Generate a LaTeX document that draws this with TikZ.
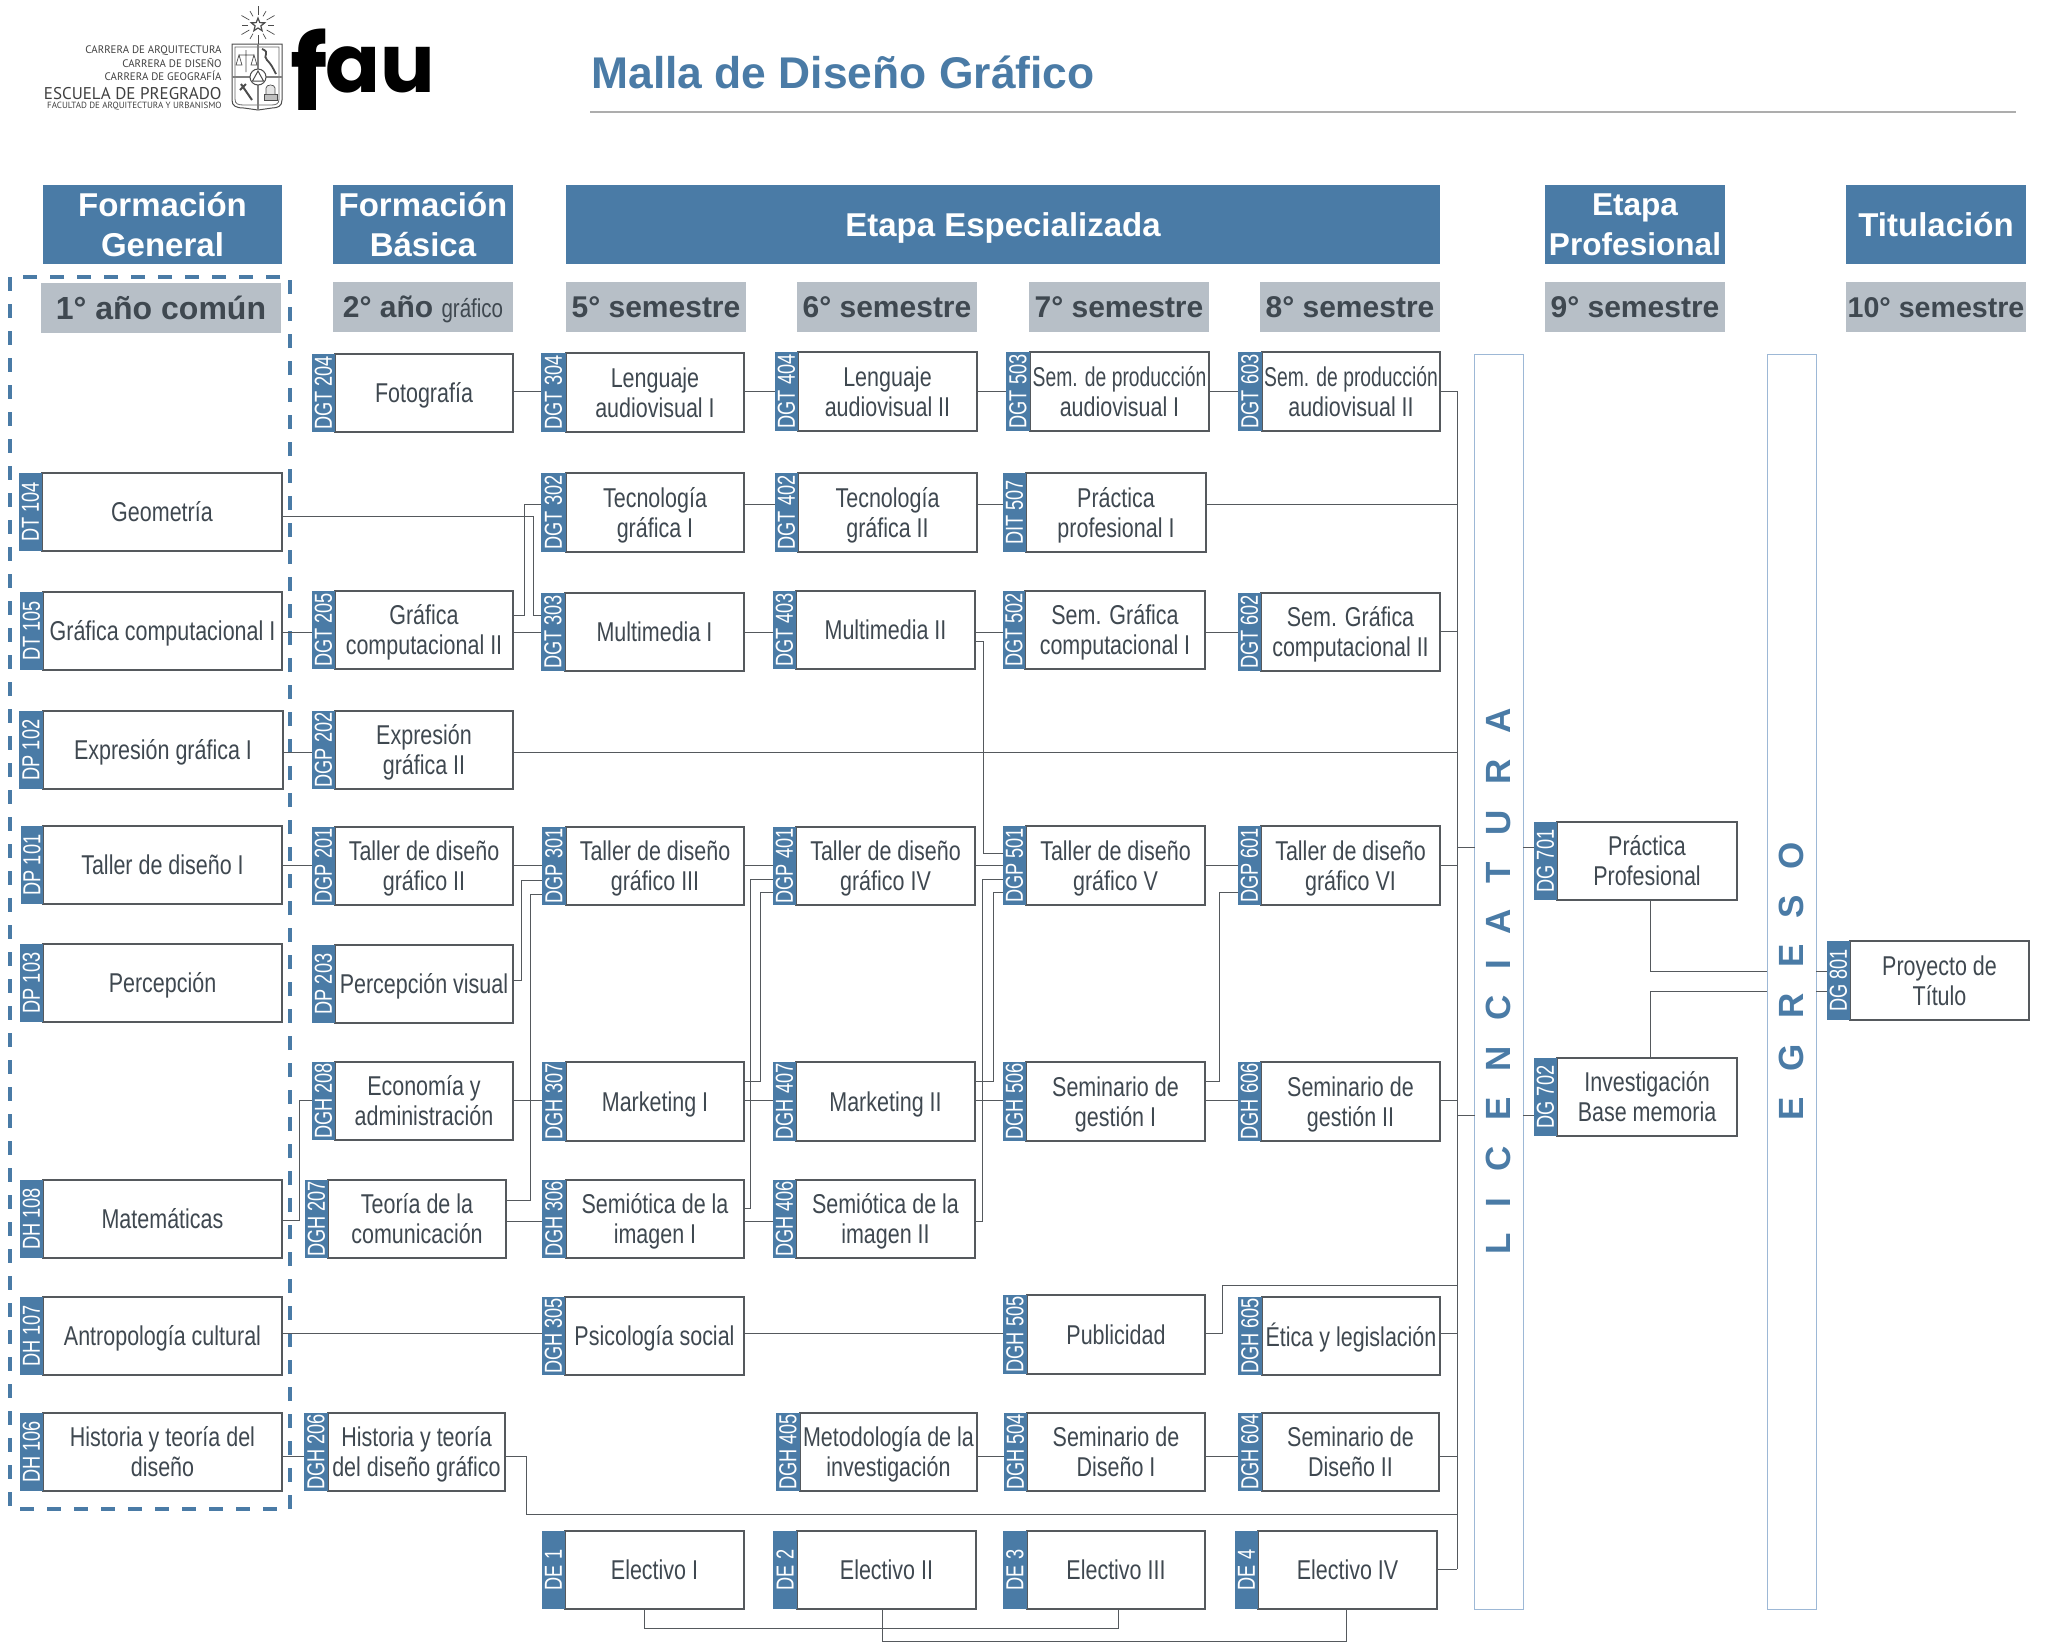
\documentclass[tikz,border=0pt]{standalone}
\usepackage{fontspec}
\usepackage{graphicx}
\setmainfont{Liberation Sans}
\newfontfamily\narrowf[FakeStretch=0.79]{Liberation Sans}
\newfontfamily\tightf[FakeStretch=0.71]{Liberation Sans}
\newfontfamily\codef[FakeStretch=0.74]{Liberation Sans}
\newfontfamily\logof{PT Sans}
\newfontfamily\fauf{Poppins}
\definecolor{mblue}{HTML}{4A7BA6}
\definecolor{mgray}{HTML}{B7BFC7}
\definecolor{mtext}{HTML}{3F4850}
\definecolor{mline}{HTML}{55595D}
\definecolor{mbar}{HTML}{9DB8D6}
\tikzset{
  hdrbox/.style={fill=mblue,text=white,inner sep=0pt,outer sep=0pt,align=center,font=\fontsize{16.5}{20}\selectfont\bfseries},
  sembox/.style={fill=mgray,text=mtext,inner sep=0pt,outer sep=0pt,align=center,font=\fontsize{15}{18}\selectfont\bfseries},
  coursebox/.style={draw=mline,line width=0.55pt,fill=white,text=mtext,inner sep=0pt,outer sep=0pt,font=\narrowf\fontsize{13.6}{15}\selectfont},
  codebox/.style={fill=mblue,text=white,inner sep=0pt,outer sep=0pt,font=\codef\fontsize{12.3}{12.3}\selectfont},
  link/.style={draw=mline,line width=0.5pt},
  lane/.style={draw=mbar,line width=0.5pt,fill=white,text=mblue,inner sep=0pt,outer sep=0pt,font=\fontsize{17.5}{18}\selectfont\bfseries},
  logoline/.style={draw=black!70,line width=0.35pt},
  logotxt/.style={anchor=east,inner sep=0pt,text=black!75,font=\logof}
}
% \course{id}{tab left}{box left}{box right}{top}{bottom}{code}{name}
\newcommand{\course}[8]{%
  \node[coursebox,minimum width={(#4-#3)*0.5pt},minimum height={(#6-#5)*0.5pt}] (#1) at ({(#3+#4)/2},{(#5+#6)/2})
    {\raisebox{-1.8pt}[\height][\depth]{\begin{tabular}{@{}c@{}}#8\end{tabular}}};
  \node[codebox,minimum width={(#3-#2)*0.5pt},minimum height={(#6-#5)*0.5pt}] (#1T) at ({(#2+#3)/2},{(#5+#6)/2}) {\rotatebox{90}{#7}};
}
\newcommand{\header}[6][hdrbox]{%
  \node[#1,minimum width={(#4-#3)*0.5pt},minimum height={(#6-#5)*0.5pt}] at ({(#3+#4)/2},{(#5+#6)/2}) {#2};
}
\newcommand{\semstrut}{\rule[-2pt]{0pt}{14pt}}
\begin{document}
\begin{tikzpicture}[x=0.5pt,y=-0.5pt]
\useasboundingbox (0,0) rectangle (2048,1646);

% ---------- logo ----------
\node[logotxt] (logoa) at (222,51) {\fontsize{5.45}{6}\selectfont CARRERA DE ARQUITECTURA};
\node[logotxt] (logob) at (222,63) {\fontsize{5.45}{6}\selectfont CARRERA DE DISEÑO};
\node[logotxt] (logoc) at (222,76) {\fontsize{5.45}{6}\selectfont CARRERA DE  GEOGRAFÍA};
\node[logotxt] (logod) at (222,94) {\fontsize{8.5}{9}\selectfont ESCUELA DE PREGRADO};
\node[logotxt] (logoe) at (222,106) {\fontsize{4.5}{5}\selectfont FACULTAD DE ARQUITECTURA Y URBANISMO};
% star and rays
\foreach \a in {0,30,...,330}{\draw[logoline] (258,25)++(\a:10) -- ++(\a:{6+mod(\a,60)/10});}
\draw[logoline,line width=0.6pt] (258,18) -- (259.8,22.6) -- (264.7,22.8) -- (260.9,25.9) -- (262.1,30.7) -- (258,28) -- (253.9,30.7) -- (255.1,25.9) -- (251.3,22.8) -- (256.2,22.6) -- cycle;
% shield
\draw[draw=black!70,line width=0.5pt,fill=white] (232,44) -- (282,44) -- (282,100) .. controls (282,106) and (278,108) .. (272,108) -- (258,110) -- (244,108) .. controls (236,108) and (232,106) .. (232,100) -- cycle;
\draw[draw=black!60,line width=0.4pt] (235,47) -- (279,47) -- (279,99) .. controls (279,104) and (276,105) .. (271,105) -- (244,105) .. controls (238,105) and (235,104) .. (235,99) -- cycle;
\draw[draw=black!50,line width=1pt] (258,44) -- (258,110) (232,77) -- (282,77);
\draw[fill=white,draw=black!70,line width=0.5pt] (258,77) circle (8);
\draw[draw=black!70,line width=0.5pt] (258,71) -- (263.5,81) -- (252.5,81) -- cycle;
% scales
\draw[logoline] (246,50) -- (246,72) (239,55) -- (254,55) (239,55) -- (236,65) -- (242,65) -- cycle (254,55) -- (251,65) -- (257,65) -- cycle;
% serpent
\draw[logoline,line width=0.9pt] (262,49) .. controls (271,52) and (262,56) .. (267,60) .. controls (271,64) and (273,68) .. (276,74);
% lower left / right
\draw[logoline,line width=1pt] (241,84) -- (252,100) (240,90) -- (246,84);
\draw[logoline,fill=black!25] (264,100) -- (277,100) -- (277,94) -- (264,94) -- cycle;
\draw[logoline,fill=black!10] (266,94) -- (266,88) .. controls (266,84) and (275,84) .. (275,88) -- (275,94);
% fau
\node[name=fau,anchor=base west,inner sep=0pt,text=black,font=\fauf\bfseries] at (290,92) {\raisebox{-9pt}{\fontsize{52}{52}\selectfont f}\hspace{-1pt}\fontsize{40.5}{42}\selectfont au};

% ---------- title ----------
\node[name=title,anchor=west,inner sep=0pt,text=mblue,font=\fontsize{22.2}{24}\selectfont\bfseries] at (591,72) {Malla de Diseño Gráfico};
\coordinate (ruleL) at (590,112);
\coordinate (ruleR) at (2016,112);
\draw[draw=black!32,line width=1.2pt] (ruleL) -- (ruleR);

% ---------- stage headers ----------
\header{Formación\\General}{43}{282}{185}{264}
\header{Formación\\Básica}{333}{513}{185}{264}
\header{\rule{0pt}{15pt}Etapa Especializada}{566}{1440}{185}{264}
\header[hdrbox,font=\fontsize{15.8}{20}\selectfont\bfseries]{Etapa\\Profesional}{1545}{1725}{185}{264}
\header{Titulación}{1846}{2026}{185}{264}
% semester bars
\header[sembox,font=\fontsize{16}{18}\selectfont\bfseries]{1° año común}{41}{281}{283}{333}
\header[sembox]{\rule[-3pt]{0pt}{16pt}2° año {\narrowf\mdseries\fontsize{13}{14}\selectfont gráfico}}{333}{513}{282}{332}
\header[sembox]{\semstrut 5° semestre}{566}{746}{282}{332}
\header[sembox]{\semstrut 6° semestre}{797}{977}{282}{332}
\header[sembox]{\semstrut 7° semestre}{1029}{1209}{282}{332}
\header[sembox]{\semstrut 8° semestre}{1260}{1440}{282}{332}
\header[sembox]{\semstrut 9° semestre}{1545}{1725}{282}{332}
\header[sembox,font=\fontsize{14.3}{18}\selectfont\bfseries]{\semstrut 10° semestre}{1846}{2026}{282}{332}

% ---------- common-year dashed frame ----------
\coordinate (frameA) at (10,277);
\coordinate (frameB) at (290,1509);
\draw[draw=mblue,line width=1.6pt,dash pattern=on 7pt off 6.5pt] (frameA) rectangle (frameB);

% ---------- lanes ----------
\node[lane,minimum width=24.25pt,minimum height=627.5pt] (lic) at (1498.8,981.5) {\rotatebox{90}{\spaceskip=12.9pt L I C E N C I A T U R A}};
\node[lane,minimum width=24.5pt,minimum height=627.5pt] (egr) at (1791.5,981.5) {\rotatebox{90}{\spaceskip=12.8pt E G R E S O}};

% ---------- courses ----------
\course{dt104}{19}{42}{282}{473}{551}{DT 104}{Geometría}
\course{dt105}{20}{43}{282}{592}{670}{DT 105}{Gráfica computacional I}
\course{dp102}{19}{43}{283}{711}{789}{DP 102}{Expresión gráfica I}
\course{dp101}{21}{43}{282}{826}{904}{DP 101}{Taller de diseño I}
\course{dp103}{20}{43}{282}{944}{1022}{DP 103}{Percepción}
\course{dh108}{20}{43}{282}{1180}{1258}{DH 108}{Matemáticas}
\course{dh107}{20}{43}{282}{1297}{1375}{DH 107}{Antropología cultural}
\course{dh106}{20}{43}{282}{1413}{1491}{DH 106}{Historia y teoría del\\diseño}

\course{dgt204}{312}{335}{513}{354}{432}{DGT 204}{Fotografía}
\course{dgt205}{312}{335}{513}{591}{669}{DGT 205}{Gráfica\\computacional II}
\course{dgp202}{312}{335}{513}{711}{789}{DGP 202}{Expresión\\gráfica II}
\course{dgp201}{312}{335}{513}{827}{905}{DGP 201}{Taller de diseño\\gráfico II}
\course{dp203}{312}{335}{513}{945}{1023}{DP 203}{Percepción visual}
\course{dgh208}{312}{335}{513}{1062}{1140}{DGH 208}{Economía y\\administración}
\course{dgh207}{305}{328}{506}{1180}{1258}{DGH 207}{Teoría de la\\comunicación}
\course{dgh206}{304}{328}{505}{1413}{1491}{DGH 206}{Historia y teoría\\del diseño gráfico}

\course{dgt304}{541}{566}{744}{353}{432}{DGT 304}{Lenguaje\\audiovisual I}
\course{dgt302}{541}{566}{744}{473}{552}{DGT 302}{Tecnología\\gráfica I}
\course{dgt303}{541}{565}{744}{593}{671}{DGT 303}{Multimedia I}
\course{dgp301}{542}{566}{744}{827}{905}{DGP 301}{Taller de diseño\\gráfico III}
\course{dgh307}{542}{566}{744}{1062}{1141}{DGH 307}{Marketing I}
\course{dgh306}{542}{566}{744}{1180}{1258}{DGH 306}{Semiótica de la\\imagen I}
\course{dgh305}{542}{565}{744}{1297}{1375}{DGH 305}{Psicología social}
\course{de1}{542}{565}{744}{1531}{1609}{DE 1}{Electivo I}

\course{dgt404}{775}{798}{977}{352}{431}{DGT 404}{Lenguaje\\audiovisual II}
\course{dgt402}{775}{798}{977}{473}{552}{DGT 402}{Tecnología\\gráfica II}
\course{dgt403}{773}{796}{975}{591}{669}{DGT 403}{Multimedia II}
\course{dgp401}{773}{796}{975}{827}{905}{DGP 401}{Taller de diseño\\gráfico IV}
\course{dgh407}{773}{796}{975}{1062}{1141}{DGH 407}{Marketing II}
\course{dgh406}{773}{796}{975}{1180}{1258}{DGH 406}{Semiótica de la\\imagen II}
\course{dgh405}{776}{800}{977}{1413}{1491}{DGH 405}{Metodología de la\\investigación}
\course{de2}{773}{797}{976}{1531}{1609}{DE 2}{Electivo II}

\course{dgt503}{1006}{1030}{1209}{352}{431}{DGT 503}{{\tightf Sem. de producción}\\audiovisual I}
\course{dit507}{1003}{1026}{1206}{473}{552}{DIT 507}{Práctica\\profesional I}
\course{dgt502}{1003}{1025}{1205}{591}{669}{DGT 502}{Sem. Gráfica\\computacional I}
\course{dgp501}{1003}{1026}{1205}{826}{905}{DGP 501}{Taller de diseño\\gráfico V}
\course{dgh506}{1003}{1026}{1205}{1062}{1141}{DGH 506}{Seminario de\\gestión I}
\course{dgh505}{1003}{1027}{1205}{1295}{1374}{DGH 505}{Publicidad}
\course{dgh504}{1004}{1027}{1205}{1413}{1491}{DGH 504}{Seminario de\\Diseño I}
\course{de3}{1003}{1027}{1205}{1531}{1609}{DE 3}{Electivo III}

\course{dgt603}{1238}{1262}{1440}{352}{431}{DGT 603}{{\tightf Sem. de producción}\\audiovisual II}
\course{dgt602}{1238}{1261}{1440}{593}{671}{DGT 602}{Sem. Gráfica\\computacional II}
\course{dgp601}{1238}{1261}{1440}{826}{905}{DGP 601}{Taller de diseño\\gráfico VI}
\course{dgh606}{1238}{1261}{1440}{1062}{1141}{DGH 606}{Seminario de\\gestión II}
\course{dgh605}{1238}{1262}{1440}{1297}{1375}{DGH 605}{Ética y legislación}
\course{dgh604}{1238}{1262}{1439}{1413}{1491}{DGH 604}{Seminario de\\Diseño II}
\course{de4}{1235}{1258}{1437}{1531}{1609}{DE 4}{Electivo IV}

\course{dg701}{1534}{1557}{1737}{822}{900}{DG 701}{Práctica\\Profesional}
\course{dg702}{1534}{1557}{1737}{1058}{1136}{DG 702}{Investigación\\Base memoria}
\course{dg801}{1827}{1850}{2029}{941}{1020}{DG 801}{Proyecto de\\Título}

% ---------- trunk ----------
\coordinate (trunkA) at (1457,391);
\coordinate (trunkB) at (1457,1569);
\draw[link] (trunkA) -- (trunkB);

% ---------- straight row links ----------
\foreach \a/\b/\yy in {
  dgt204/dgt304/391, dgt304/dgt404/391, dgt404/dgt503/391, dgt503/dgt603/391,
  dgt302/dgt402/504, dgt402/dit507/504,
  dt105/dgt205/632, dgt205/dgt303/632, dgt303/dgt403/632, dgt403/dgt502/632, dgt502/dgt602/632,
  dp102/dgp202/752,
  dp101/dgp201/865, dgp201/dgp301/865, dgp301/dgp401/865, dgp401/dgp501/865, dgp501/dgp601/865,
  dgh208/dgh307/1100, dgh307/dgh407/1100, dgh407/dgh506/1100, dgh506/dgh606/1100,
  dgh207/dgh306/1221, dgh306/dgh406/1221,
  dh107/dgh305/1333, dgh305/dgh505/1333,
  dh106/dgh206/1456, dgh405/dgh504/1456, dgh504/dgh604/1456}
  {\draw[link] (\a.east|-0,\yy) -- (\b T.west|-0,\yy);}

% ---------- links to the trunk ----------
\foreach \a/\yy in {dgt603/391, dit507/504, dgt602/631, dgp202/752, dgp601/865, dgh606/1100, dgh605/1333, dgh604/1456, de4/1569}
  {\draw[link] (\a.east|-0,\yy) -- (trunkA|-0,\yy);}

% ---------- elbow links ----------
\draw[link] (dt104.east|-0,516) -| (533,615) -- (dgt303T.west|-0,615);
\draw[link] (dgt205.east|-0,615) -| (524,504) -- (dgt302T.west|-0,504);
\draw[link] (dgt403.east|-0,641) -| (983,853.5) -- (dgp501T.west|-0,853.5);
\draw[link] (dp203.east|-0,980.5) -| (521,880) -- (dgp301T.west|-0,880);
\draw[link] (dgh207.east|-0,1200.5) -| (530,894) -- (dgp301T.west|-0,894);
\draw[link] (dh108.east|-0,1220) -| (299,1100) -- (dgh208T.west|-0,1100);
\draw[link] (dgh307.east|-0,1081) -| (760.5,892) -- (dgp401T.west|-0,892);
\draw[link] (dgh306.east|-0,1208) -| (750,879) -- (dgp401T.west|-0,879);
\draw[link] (dgh407.east|-0,1081) -| (993,892) -- (dgp501T.west|-0,892);
\draw[link] (dgh406.east|-0,1221) -| (982.5,879) -- (dgp501T.west|-0,879);
\draw[link] (dgh506.east|-0,1081) -| (1219,892) -- (dgp601T.west|-0,892);
\draw[link] (dgh505.east|-0,1333) -| (1222,1285) -- (trunkA|-0,1285);
\draw[link] (dgh206.east|-0,1456) -| (526.5,1514) -- (trunkA|-0,1514);
% electives
\draw[link] (de1.south-|644,0) |- (1118.5,1628) -- (de3.south-|1118.5,0);
\draw[link] (de2.south-|882,0) |- (1346.5,1641) -- (de4.south-|1346.5,0);
% licenciatura / egreso
\draw[link] (trunkA|-0,847) -- (lic.west|-0,847);
\draw[link] (trunkA|-0,1115) -- (lic.west|-0,1115);
\draw[link] (lic.east|-0,847) -- (dg701T.west|-0,847);
\draw[link] (lic.east|-0,1115) -- (dg702T.west|-0,1115);
\draw[link] (dg701.south-|1650,0) |- (egr.west|-0,971.5);
\draw[link] (dg702.north-|1650,0) |- (egr.west|-0,991);
\draw[link] (egr.east|-0,971.5) -- (dg801T.west|-0,971.5);
\draw[link] (egr.east|-0,991) -- (dg801T.west|-0,991);
\end{tikzpicture}
\end{document}
